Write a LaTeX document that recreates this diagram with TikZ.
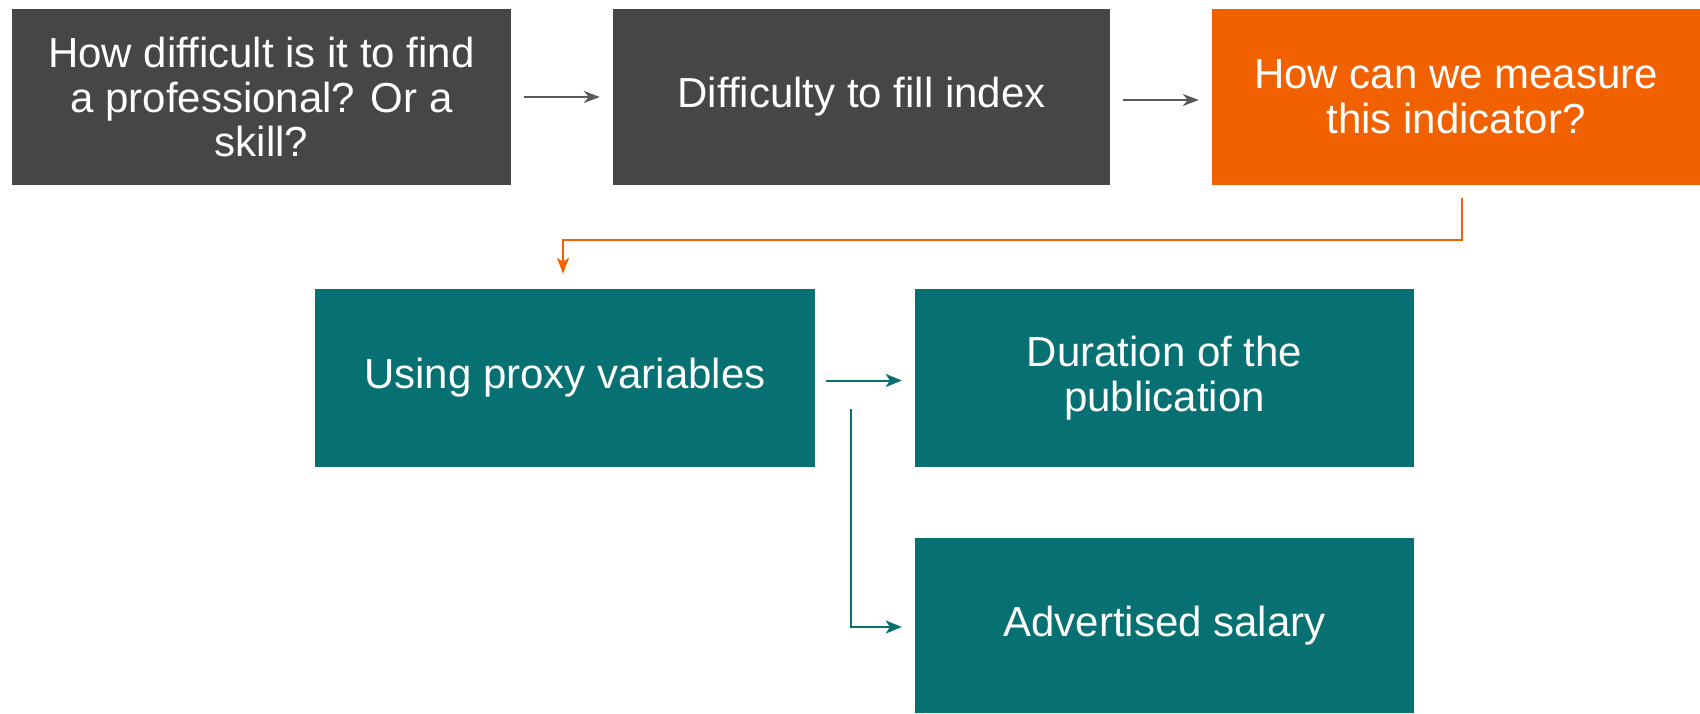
\documentclass[tikz,border=0pt]{standalone}
\usepackage{fontspec}
\setmainfont{Liberation Sans}
\usetikzlibrary{arrows.meta}
\definecolor{dgrey}{HTML}{464646}
\definecolor{org}{HTML}{F26100}
\definecolor{teal}{HTML}{067073}
\definecolor{agrey}{HTML}{5A5A5A}
\begin{document}
\begin{tikzpicture}[x=1pt,y=-1pt,
  box/.style={draw=none,inner sep=0pt,align=center,text=white,
    font=\fontsize{42}{44.5}\selectfont},
  gbox/.style={box,fill=dgrey},
  obox/.style={box,fill=org},
  tbox/.style={box,fill=teal},
  garr/.style={draw=agrey,line width=2pt,-{Stealth[length=16pt,width=12pt,inset=5pt]}},
  oarr/.style={draw=org,line width=2pt,-{Stealth[length=16pt,width=12pt,inset=4pt]}},
  tarr/.style={draw=teal,line width=2pt,-{Stealth[length=16pt,width=13pt,inset=4pt]}}]
\useasboundingbox (0,0) rectangle (1700,713);
\node[gbox,minimum width=499pt,minimum height=176pt] (b1) at (261.5,97) {How difficult is it to find\\a professional? Or a\\skill?};
\node[gbox,minimum width=497pt,minimum height=176pt] (b2) at (861.5,97) {Difficulty to fill index};
\node[obox,minimum width=488pt,minimum height=176pt] (b3) at (1456,97) {How can we measure\\this indicator?};
\node[tbox,minimum width=500pt,minimum height=178pt] (b4) at (565,378) {Using proxy variables};
\node[tbox,minimum width=499pt,minimum height=178pt] (b5) at (1164.5,378) {Duration of the\\publication};
\node[tbox,minimum width=499pt,minimum height=175pt] (b6) at (1164.5,625.5) {Advertised salary};
\draw[garr] ([xshift=13pt]b1.east) -- ([xshift=-13pt]b2.west);
\draw[garr] ([xshift=13pt,yshift=-3pt]b2.east) -- ([xshift=-13pt,yshift=-3pt]b3.west);
\coordinate (o1) at ([xshift=5.5pt,yshift=-13pt]b3.south);
\draw[oarr] (o1) -- ++(0,42) -| ([xshift=-2pt,yshift=15pt]b4.north);
\draw[tarr] ([xshift=11pt,yshift=-2.5pt]b4.east) -- ([xshift=-13pt,yshift=-2.5pt]b5.west);
\coordinate (t1) at (851,409);
\draw[tarr] (t1) |- ([xshift=-13pt,yshift=-1.5pt]b6.west);
\end{tikzpicture}
\end{document}
